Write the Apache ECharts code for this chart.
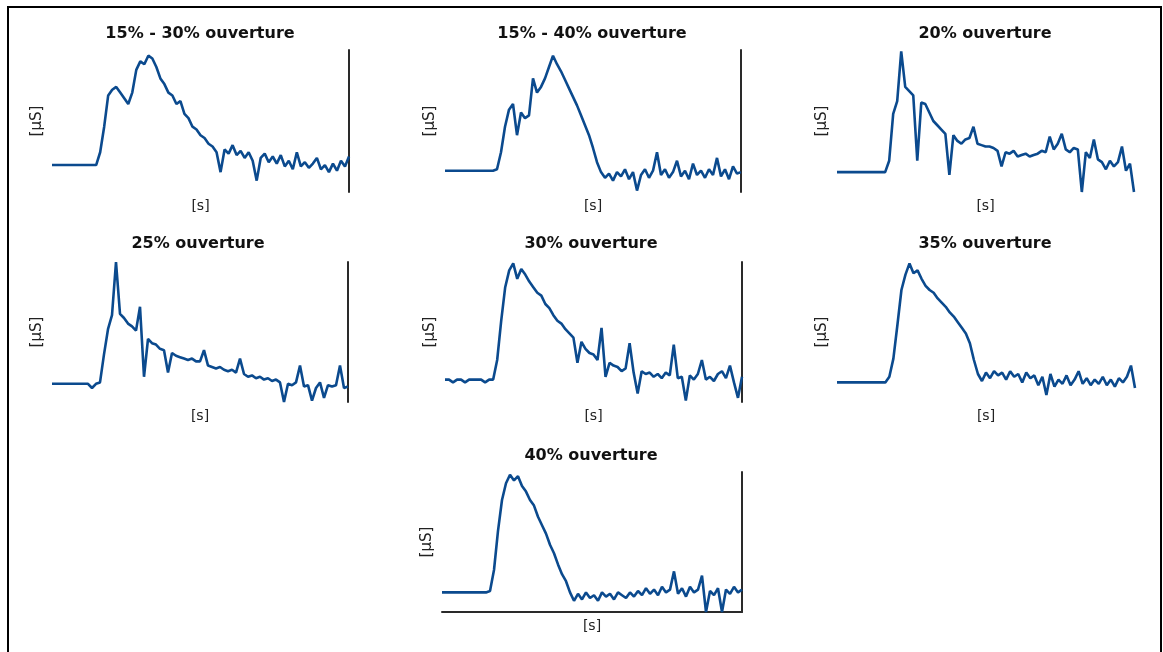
<!DOCTYPE html>
<html>
<head>
<meta charset="utf-8">
<title>ouverture</title>
<script src="https://cdn.jsdelivr.net/npm/echarts@6/dist/echarts.min.js"></script>
<style>
  html, body { margin: 0; padding: 0; background: #fff; }
  #chart { width: 1163px; height: 652px; }
</style>
</head>
<body>
<div id="chart"></div>
<script>
const titles = ['15% - 30% ouverture', '15% - 40% ouverture', '20% ouverture',
  '25% ouverture', '30% ouverture', '35% ouverture', '40% ouverture'];
const xName = '[s]';
const yName = '[µS]';

// conductance, arbitrary units (0 = axis bottom, 100 = top)
const p1 = [19, 19, 19, 19, 19, 19, 19, 19, 19, 19, 19, 19,
  28, 46, 68, 72, 74, 70, 66, 62, 70, 86, 92, 90, 96, 94, 88, 80, 76, 70, 68, 62, 64, 55, 52, 46, 44, 40, 38, 34,
  32, 28, 14, 30, 27, 33, 26, 29, 24, 28, 22, 8, 24, 27, 21, 25, 20, 26, 18, 22, 16, 28, 18, 21, 17, 20, 24, 16, 19, 14, 20, 15, 22, 18, 25];
const p2 = [15, 15, 15, 15, 15, 15, 15, 15, 15, 15, 15, 15, 15,
  16, 28, 46, 58, 62, 40, 56, 52, 54, 80, 70, 74, 80, 88, 96, 90, 85, 79, 73, 67, 61, 54, 47, 40, 31, 21, 14, 10, 13, 8,
  14, 11, 16, 9, 14, 1, 12, 16, 10, 15, 28, 12, 16, 10, 14, 22, 11, 15, 9, 20, 12, 15, 10, 16, 12, 24, 11, 16, 9, 18, 13, 14];
const p3 = [14, 14, 14, 14, 14, 14, 14, 14, 14, 14, 14, 14, 14,
  22, 55, 64, 99, 74, 71, 68, 22, 63, 62, 56, 50, 47, 44, 41, 12, 40, 36, 34, 37, 38, 46, 34, 33, 32, 32, 31, 29, 18, 28,
  27, 29, 25, 26, 27, 25, 26, 27, 29, 28, 39, 30, 34, 41, 30, 28, 31, 30, 0, 28, 24, 37, 23, 21, 16, 22, 18, 21, 32, 15, 20, 0];
const p4 = [13, 13, 13, 13, 13, 13, 13, 13, 13, 13,
  10, 13, 14, 34, 52, 62, 100, 63, 60, 56, 54, 51, 68, 18, 45, 42, 41, 38, 37, 21, 35, 33, 32, 31, 30, 31, 29, 29, 37, 26,
  25, 24, 25, 23, 22, 23, 21, 31, 20, 18, 19, 17, 18, 16, 17, 15, 16, 14, 0, 13, 12, 14, 26, 11, 12, 1, 10, 14, 3, 12, 11, 12, 26, 10, 11];
const p5 = [16, 16, 14, 16, 16, 14, 16, 16, 16, 16, 14, 16, 16,
  30, 58, 82, 94, 99, 88, 95, 91, 86, 82, 78, 76, 70, 67, 62, 58, 56, 52, 49, 46, 28, 43, 38, 35, 34, 30, 53, 18, 28, 26,
  25, 22, 24, 42, 21, 6, 22, 20, 21, 18, 20, 17, 21, 19, 41, 17, 18, 1, 19, 16, 20, 30, 16, 18, 15, 20, 22, 17, 26, 14, 3, 18];
const p6 = [14, 14, 14, 14, 14, 14, 14, 14, 14, 14, 14, 14, 14,
  18, 31, 55, 80, 91, 99, 92, 94, 88, 83, 80, 78, 74, 71, 68, 64, 61, 57, 53, 49, 42, 30, 20, 15, 21, 17, 22, 19, 21, 16,
  22, 18, 20, 14, 21, 17, 19, 12, 18, 5, 20, 11, 16, 13, 19, 12, 16, 22, 13, 17, 12, 16, 13, 18, 12, 16, 11, 17, 14, 18, 26, 10];
const p7 = [14, 14, 14, 14, 14, 14, 14, 14, 14, 14, 14, 14,
  15, 30, 58, 80, 92, 98, 94, 97, 90, 86, 80, 76, 68, 62, 56, 48, 42, 34, 27, 22, 14, 8, 13, 9, 14, 10, 12, 8, 14, 11,
  13, 9, 14, 12, 10, 14, 11, 15, 12, 17, 13, 16, 12, 18, 14, 16, 29, 13, 17, 11, 18, 14, 16, 26, 0, 15, 12, 17, 0, 16, 13, 18, 14, 16];

const lineColor = '#0b4a8e';
const axisColor = '#2a2a2a';

const panels = [
  { data: p1, left: 52, top: 50, width: 297, height: 142, right: true, bottom: false, cx: 200, ty: 34 },
  { data: p2, left: 445, top: 50, width: 296, height: 142, right: true, bottom: false, cx: 592, ty: 34 },
  { data: p3, left: 837, top: 50, width: 297, height: 142, right: false, bottom: false, cx: 985, ty: 34 },
  { data: p4, left: 52, top: 262, width: 296, height: 140, right: true, bottom: false, cx: 198, ty: 244 },
  { data: p5, left: 445, top: 262, width: 297, height: 140, right: true, bottom: false, cx: 591, ty: 244 },
  { data: p6, left: 837, top: 262, width: 298, height: 140, right: false, bottom: false, cx: 985, ty: 244 },
  { data: p7, left: 442, top: 472, width: 300, height: 140, right: true, bottom: true, cx: 591, ty: 456 }
];

const chart = echarts.init(document.getElementById('chart'), null, { renderer: 'canvas' });

let grid = [];
let xAxis = [];
let yAxis = [];
let series = [];
let graphic = [{
  type: 'rect',
  shape: { x: 8, y: 7, width: 1153, height: 700 },
  style: { fill: 'none', stroke: '#000', lineWidth: 2 },
  silent: true
}];

panels.forEach((p, i) => {
  grid.push({ left: p.left, top: p.top, width: p.width, height: p.height });
  xAxis.push({
    gridIndex: i,
    type: 'category',
    boundaryGap: false,
    data: p.data.map((v, k) => k),
    name: xName,
    nameLocation: 'middle',
    nameGap: 7,
    nameTextStyle: { fontFamily: 'DejaVu Sans', fontSize: 14, color: '#222' },
    axisLine: { show: p.bottom, onZero: false, lineStyle: { color: axisColor, width: 2 } },
    axisTick: { show: false },
    axisLabel: { show: false },
    splitLine: { show: false }
  });
  const yIndex = yAxis.length;
  yAxis.push({
    gridIndex: i,
    type: 'value',
    min: 0,
    max: 100,
    name: yName,
    nameLocation: 'middle',
    nameRotate: 90,
    nameGap: 7,
    nameTextStyle: { fontFamily: 'DejaVu Sans', fontSize: 15, color: '#222' },
    axisLine: { show: false },
    axisTick: { show: false },
    axisLabel: { show: false },
    splitLine: { show: false }
  });
  if (p.right) {
    yAxis.push({
      gridIndex: i,
      type: 'value',
      position: 'right',
      min: 0,
      max: 100,
      axisLine: { show: true, onZero: false, lineStyle: { color: axisColor, width: 2 } },
      axisTick: { show: false },
      axisLabel: { show: false },
      splitLine: { show: false }
    });
  }
  series.push({
    type: 'line',
    xAxisIndex: i,
    yAxisIndex: yIndex,
    data: p.data,
    showSymbol: false,
    lineStyle: { color: lineColor, width: 2.6 },
    itemStyle: { color: lineColor }
  });
  graphic.push({
    type: 'text',
    x: p.cx,
    y: p.ty,
    silent: true,
    style: {
      text: titles[i],
      textAlign: 'center',
      textVerticalAlign: 'middle',
      fontFamily: 'DejaVu Sans',
      fontWeight: 'bold',
      fontSize: 16,
      fill: '#111'
    }
  });
});

chart.setOption({
  animation: false,
  backgroundColor: '#fff',
  grid: grid,
  xAxis: xAxis,
  yAxis: yAxis,
  series: series,
  graphic: graphic
});
</script>
</body>
</html>
